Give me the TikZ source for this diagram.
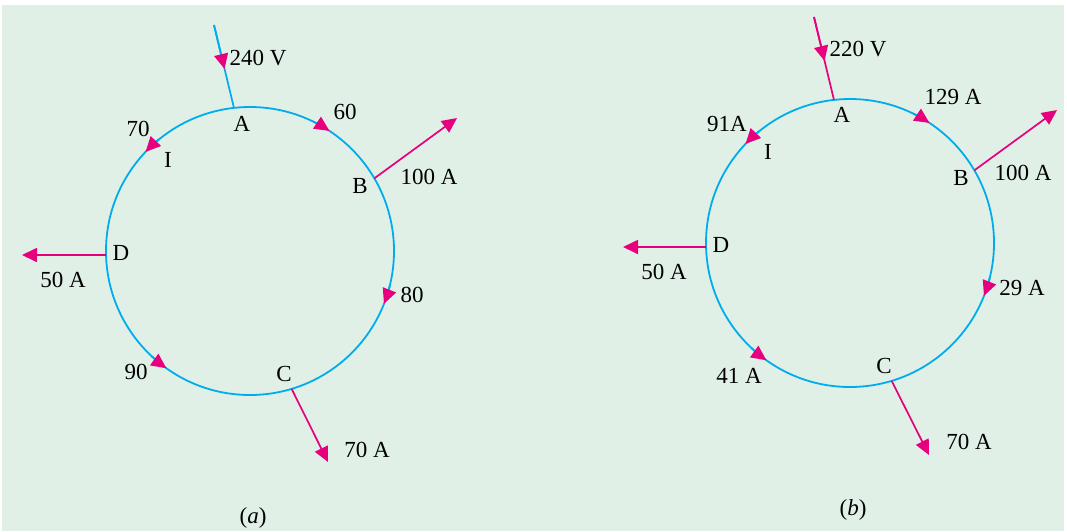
\documentclass[tikz,border=0pt]{standalone}
\usepackage{fontspec}
\setmainfont{Liberation Serif}
\usetikzlibrary{arrows.meta,calc}
\definecolor{panel}{RGB}{224,240,230}
\definecolor{wire}{RGB}{0,172,238}
\definecolor{amp}{RGB}{230,0,126}

\begin{document}
\begin{tikzpicture}[x=1pt, y=-1pt,
  ring/.style={wire, line width=1.8pt},
  feed/.style={line width=1.7pt},
  load/.style={amp, line width=1.7pt, -{Triangle[length=15pt,width=14pt]}},
  flow/.style={wire, line width=1.8pt, -{Triangle[length=15pt,width=14pt,color=amp]}},
  lbl/.style={font=\fontsize{23}{27}\selectfont, inner sep=0pt}
]
  \useasboundingbox (0,0) rectangle (1067,531);
  \fill[panel] (2,5) rectangle (1064,531);

  % (a)
  \coordinate (ca) at (250,251);
  \draw[ring] (ca) circle[radius=144pt];
  \coordinate (aA) at ($(ca)+(96.4:144pt)$);
  \coordinate (aB) at ($(ca)+(30.3:144pt)$);
  \coordinate (aC) at ($(ca)+(-73.2:144pt)$);
  \coordinate (aD) at ($(ca)+(181.6:144pt)$);
  \coordinate (aTop) at (214,25);
  \coordinate (aBout) at (457,118);
  \coordinate (aCout) at (328,462);
  \coordinate (aDout) at (22,255);

  \draw[feed, wire] (aTop) -- (aA);
  \draw[flow] (aTop) -- ($(aTop)!0.53!(aA)$);
  \draw[load] (aB) -- (aBout);
  \draw[load] (aC) -- (aCout);
  \draw[load] (aD) -- (aDout);
  \draw[flow] ($(ca)+(64:144pt)$) arc[start angle=64, end angle=56.5, radius=144pt];
  \draw[flow] ($(ca)+(129:144pt)$) arc[start angle=129, end angle=136.5, radius=144pt];
  \draw[flow] ($(ca)+(-14:144pt)$) arc[start angle=-14, end angle=-21.5, radius=144pt];
  \draw[flow] ($(ca)+(227:144pt)$) arc[start angle=227, end angle=234.5, radius=144pt];

  \node[lbl] (aV) at (258,58) {240 V};
  \node[lbl] (aAl) at (242,124) {A};
  \node[lbl] (aAB) at (345,112) {60};
  \node[lbl] (aAI) at (138,129) {70};
  \node[lbl] (aIl) at (168,160) {I};
  \node[lbl] (aBl) at (360,186) {B};
  \node[lbl] (aBi) at (429,177) {100 A};
  \node[lbl] (aDl) at (121,253) {D};
  \node[lbl] (aDi) at (63,280) {50 A};
  \node[lbl] (aBC) at (412,295) {80};
  \node[lbl] (aDC) at (136,372) {90};
  \node[lbl] (aCl) at (284,374) {C};
  \node[lbl] (aCi) at (367,450) {70 A};
  \node[lbl] (acap) at (253,518) {(\textit{a})};

  % (b)
  \coordinate (cb) at (850,243);
  \draw[ring] (cb) circle[radius=144pt];
  \coordinate (bA) at ($(cb)+(96.4:144pt)$);
  \coordinate (bB) at ($(cb)+(30.3:144pt)$);
  \coordinate (bC) at ($(cb)+(-73.2:144pt)$);
  \coordinate (bD) at ($(cb)+(181.6:144pt)$);
  \coordinate (bTop) at (814,17);
  \coordinate (bBout) at (1057,110);
  \coordinate (bCout) at (929,455);
  \coordinate (bDout) at (623,247);

  \draw[feed, amp] (bTop) -- (bA);
  \draw[load] (bTop) -- ($(bTop)!0.53!(bA)$);
  \draw[load] (bB) -- (bBout);
  \draw[load] (bC) -- (bCout);
  \draw[load] (bD) -- (bDout);
  \draw[flow] ($(cb)+(64:144pt)$) arc[start angle=64, end angle=56.5, radius=144pt];
  \draw[flow] ($(cb)+(129:144pt)$) arc[start angle=129, end angle=136.5, radius=144pt];
  \draw[flow] ($(cb)+(-14:144pt)$) arc[start angle=-14, end angle=-21.5, radius=144pt];
  \draw[flow] ($(cb)+(227:144pt)$) arc[start angle=227, end angle=234.5, radius=144pt];

  \node[lbl] (bV) at (858,49) {220 V};
  \node[lbl] (bAl) at (842,115) {A};
  \node[lbl] (bAB) at (953,97) {129 A};
  \node[lbl] (bAI) at (727,124) {91A};
  \node[lbl] (bIl) at (768,152) {I};
  \node[lbl] (bBl) at (961,178) {B};
  \node[lbl] (bBi) at (1023,173) {100 A};
  \node[lbl] (bDl) at (721,245) {D};
  \node[lbl] (bDi) at (664,272) {50 A};
  \node[lbl] (bBC) at (1022,288) {29 A};
  \node[lbl] (bDC) at (739,376) {41 A};
  \node[lbl] (bCl) at (884,366) {C};
  \node[lbl] (bCi) at (969,442) {70 A};
  \node[lbl] (bcap) at (853,510) {(\textit{b})};
\end{tikzpicture}
\end{document}
